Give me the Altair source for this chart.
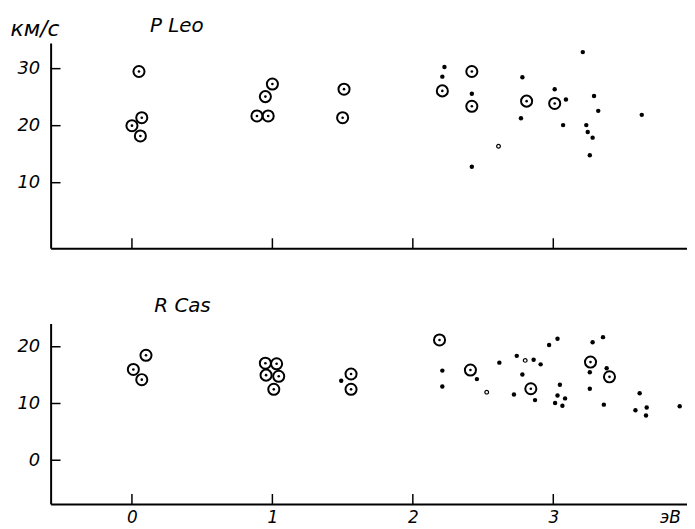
import altair as alt
import pandas as pd

# ---------------- data ----------------
# P Leo (upper panel)
leo_ring_x = [0.05, 0.00, 0.07, 0.06, 0.89, 0.97, 0.95, 1.00, 1.51, 1.50, 2.21, 2.42, 2.42, 2.81, 3.01]
leo_ring_y = [29.5, 20.0, 21.4, 18.2, 21.7, 21.7, 25.1, 27.3, 26.4, 21.4, 26.1, 29.5, 23.4, 24.3, 23.9]
leo_dot_x = [2.225, 2.21, 2.42, 2.42, 2.78, 2.77, 3.01, 3.09, 3.07, 3.21, 3.29, 3.32, 3.235, 3.245, 3.28, 3.26, 3.63]
leo_dot_y = [30.3, 28.6, 25.6, 12.8, 28.5, 21.3, 26.4, 24.6, 20.1, 32.9, 25.2, 22.6, 20.1, 18.9, 17.9, 14.8, 21.9]
leo_open_x = [2.61]
leo_open_y = [16.4]

# R Cas (lower panel)
cas_ring_x = [0.01, 0.10, 0.07, 0.95, 1.03, 0.955, 1.045, 1.01, 1.56, 1.56, 2.19, 2.41, 2.84, 3.265, 3.40]
cas_ring_y = [16.0, 18.5, 14.2, 17.1, 17.0, 15.0, 14.8, 12.5, 15.2, 12.5, 21.2, 15.9, 12.6, 17.3, 14.7]
cas_dot_x = [1.49, 2.21, 2.21, 2.456, 2.616, 2.74, 2.86, 2.91, 2.78, 2.72, 2.87, 2.97, 3.03, 3.047,
             3.03, 3.084, 3.013, 3.065, 3.28, 3.354, 3.26, 3.38, 3.26, 3.36, 3.615, 3.585, 3.665, 3.66, 3.90]
cas_dot_y = [14.0, 15.8, 13.0, 14.3, 17.2, 18.4, 17.7, 16.9, 15.1, 11.6, 10.6, 20.3, 21.4, 13.3,
             11.4, 10.9, 10.1, 9.6, 20.8, 21.7, 15.5, 16.2, 12.6, 9.8, 11.8, 8.8, 9.3, 7.9, 9.5]
cas_open_x = [2.526, 2.80]
cas_open_y = [12.0, 17.6]

x_ticks = [0, 1, 2, 3]
leo_y_ticks = [10, 20, 30]
cas_y_ticks = [0, 10, 20]
x_unit_label = "эВ"
x_unit_pos = 3.83

X_DOMAIN = [-0.579, 3.952]
LEO_Y_DOMAIN = [-1.48, 34.5]
CAS_Y_DOMAIN = [-7.7, 24.1]

FONT = "DejaVu Sans"


def frame(rx, ry, dx, dy, ox, oy):
    return pd.DataFrame(
        {"x": rx + dx + ox, "y": ry + dy + oy,
         "kind": ["ring"] * len(rx) + ["dot"] * len(dx) + ["open"] * len(ox)}
    )


def panel(df, ydom, h, yticks, show_xlabels, texts):
    w = 642
    xs = alt.Scale(domain=X_DOMAIN, nice=False, zero=False)
    ys = alt.Scale(domain=ydom, nice=False, zero=False)
    if show_xlabels:
        xaxis = alt.Axis(values=x_ticks + [x_unit_pos], title=None, grid=False, ticks=False, tickSize=0,
                         labelExpr=f"datum.value > 3.5 ? '{x_unit_label}' : datum.label",
                         labelPadding=6, labelFontSize=17, labelFontStyle="italic", labelFont=FONT,
                         labelColor="black", domainColor="black", domainWidth=2)
    else:
        xaxis = alt.Axis(values=x_ticks, title=None, grid=False, ticks=False, tickSize=0, labels=False,
                         domainColor="black", domainWidth=2)
    yaxis = alt.Axis(values=yticks, title=None, grid=False, ticks=False, tickSize=0,
                     labelPadding=11, labelFontSize=18, labelFontStyle="italic", labelFont=FONT,
                     labelColor="black", domainColor="black", domainWidth=2)

    def X(field):
        return alt.X(field, scale=xs, axis=xaxis, title=None)

    def Y(field):
        return alt.Y(field, scale=ys, axis=yaxis, title=None)

    base = alt.Chart(df)
    rings = base.transform_filter(alt.datum.kind == "ring").mark_point(
        shape="circle", filled=False, size=125, strokeWidth=2, color="black", opacity=1
    ).encode(x=X("x:Q"), y=Y("y:Q"))
    centers = base.transform_filter(alt.datum.kind == "ring").mark_circle(
        size=7, color="black", opacity=1
    ).encode(x=X("x:Q"), y=Y("y:Q"))
    dots = base.transform_filter(alt.datum.kind == "dot").mark_circle(
        size=20, color="black", opacity=1
    ).encode(x=X("x:Q"), y=Y("y:Q"))
    opens = base.transform_filter(alt.datum.kind == "open").mark_point(
        shape="circle", filled=False, size=14, strokeWidth=1.2, color="black", opacity=1
    ).encode(x=X("x:Q"), y=Y("y:Q"))
    xt = alt.Chart(pd.DataFrame({"v": x_ticks})).mark_rule(color="black", strokeWidth=1.5).encode(
        x=X("v:Q"), y=alt.value(h - 10), y2=alt.value(h)
    )
    yt = alt.Chart(pd.DataFrame({"v": yticks})).mark_rule(color="black", strokeWidth=1.5).encode(
        y=Y("v:Q"), x=alt.value(0), x2=alt.value(10)
    )
    txt = alt.Chart(pd.DataFrame(texts)).mark_text(
        fontStyle="italic", font=FONT, color="black", align="center", baseline="middle"
    ).encode(x=X("x:Q"), y=Y("y:Q"), text="t:N",
             size=alt.Size("s:Q", scale=None, legend=None))
    return alt.layer(rings, centers, dots, opens, xt, yt, txt).properties(width=w, height=h)


leo_df = frame(leo_ring_x, leo_ring_y, leo_dot_x, leo_dot_y, leo_open_x, leo_open_y)
cas_df = frame(cas_ring_x, cas_ring_y, cas_dot_x, cas_dot_y, cas_open_x, cas_open_y)

top = panel(leo_df, LEO_Y_DOMAIN, 207, leo_y_ticks, False,
            {"x": [-0.69, 0.32], "y": [36.9, 37.5], "t": ["км/с", "P  Leo"], "s": [22, 20]})
bottom = panel(cas_df, CAS_Y_DOMAIN, 182, cas_y_ticks, True,
               {"x": [0.36], "y": [27.1], "t": ["R  Cas"], "s": [20]})

chart = alt.vconcat(top, bottom, spacing=47).properties(
    padding={"left": 2, "top": 5, "right": 0, "bottom": 0}, background="white"
).configure_view(stroke=None)

chart.save("out.html", embed_options={"renderer": "svg", "actions": False})
